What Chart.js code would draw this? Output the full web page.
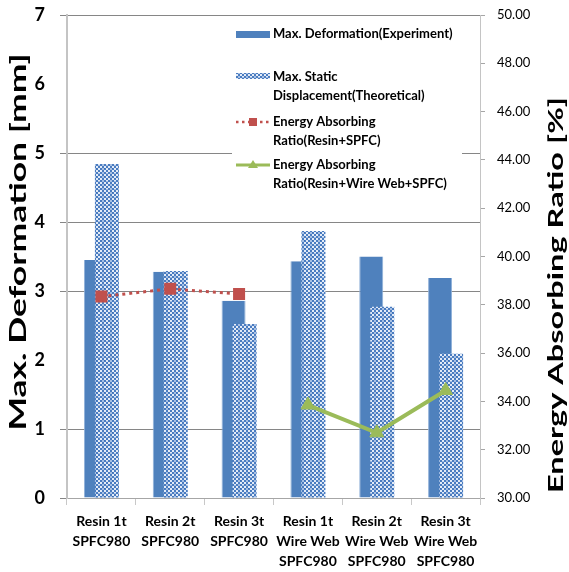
<!DOCTYPE html>
<html>
<head>
<meta charset="utf-8">
<script src="https://cdn.jsdelivr.net/npm/chart.js@4.4.1/dist/chart.umd.min.js"></script>
<style>
  html, body { margin: 0; padding: 0; background: #ffffff; }
  #wrap { width: 569px; height: 572px; position: relative; }
</style>
</head>
<body>
<div id="wrap"><canvas id="chart" width="569" height="572"></canvas></div>
<script>
// Specimen groups (multi-line category labels)
const categories = [
  ["Resin 1t", "SPFC980"],
  ["Resin 2t", "SPFC980"],
  ["Resin 3t", "SPFC980"],
  ["Resin 1t", "Wire Web", "SPFC980"],
  ["Resin 2t", "Wire Web", "SPFC980"],
  ["Resin 3t", "Wire Web", "SPFC980"]
];

// Deformation in mm (left axis)
const maxDeformationExperiment = [3.45, 3.28, 2.86, 3.43, 3.50, 3.19];
const maxStaticDisplacementTheoretical = [4.84, 3.29, 2.52, 3.87, 2.77, 2.09];

// Energy absorbing ratio in % (right axis)
const ratioResinSpfc = [38.34, 38.66, 38.45, null, null, null];
const ratioResinWireWebSpfc = [null, null, null, 33.85, 32.70, 34.45];

// Axis ranges
const deformationRange = { min: 0, max: 7, step: 1 };
const ratioRange = { min: 30, max: 50, step: 2 };

// Series names as shown in the legend (line-broken)
const seriesNames = [
  ["Max. Deformation(Experiment)"],
  ["Max. Static", "Displacement(Theoretical)"],
  ["Energy Absorbing", "Ratio(Resin+SPFC)"],
  ["Energy Absorbing", "Ratio(Resin+Wire Web+SPFC)"]
];

const FONT = "Lato, 'Open Sans', 'DejaVu Sans', sans-serif";
const BLUE = '#4f81bd';
const RED = '#c0504d';
const GREEN = '#9bbb59';

// Checkered texture used for the theoretical bars
function makeTexture() {
  const t = document.createElement('canvas');
  t.width = 8; t.height = 8;
  const g = t.getContext('2d');
  g.fillStyle = '#e3ebf7';
  g.fillRect(0, 0, 8, 8);
  for (let y = 0; y < 8; y++) {
    for (let x = 0; x < 8; x++) {
      const dark = ((x >> 1) + (y >> 1)) % 2 === 0;
      if (dark) {
        g.fillStyle = (x === 0 && y === 0) ? '#3a6db4' : '#4a7cc0';
        g.fillRect(x, y, 1, 1);
      } else if (x >= 6 || y === 5) {
        g.fillStyle = '#a6bfe3';
        g.fillRect(x, y, 1, 1);
      }
    }
  }
  return g.createPattern(t, 'repeat');
}

// Draw the theoretical bars right after the experimental ones so they sit in front
const barLayering = {
  id: 'barLayering',
  beforeDatasetDraw(chart, args) {
    if (args.index === 1) return false;
  },
  afterDatasetDraw(chart, args) {
    if (args.index === 0) {
      const meta = chart.getDatasetMeta(1);
      if (!meta.hidden) meta.controller.draw();
    }
  }
};

// Rotated axis titles
const axisTitles = {
  id: 'axisTitles',
  afterDraw(chart) {
    const ctx = chart.ctx;
    const drawRotated = (text, cx, cy, size, length) => {
      ctx.save();
      ctx.font = 'bold ' + size + 'px ' + FONT;
      const w = ctx.measureText(text).width;
      ctx.translate(cx, cy);
      ctx.rotate(-Math.PI / 2);
      ctx.scale(length / w, 1);
      ctx.fillStyle = '#000000';
      ctx.textAlign = 'center';
      ctx.textBaseline = 'middle';
      ctx.fillText(text, 0, 0);
      ctx.restore();
    };
    drawRotated('Max. Deformation [mm]', 19, 242, 23, 377);
    drawRotated('Energy Absorbing Ratio [%]', 556, 295, 21, 396);
  }
};

// Legend box inside the plot area
const boxLegend = {
  id: 'boxLegend',
  afterDraw(chart) {
    const ctx = chart.ctx;
    const x0 = 232, y0 = 20, w = 230, h = 178;
    ctx.save();
    ctx.fillStyle = '#ffffff';
    ctx.fillRect(x0, y0, w, h);

    const sx = 236, ex = 270, tx = 273;
    const rows = [
      { y: 34, lines: seriesNames[0] },
      { y: 77, lines: seriesNames[1] },
      { y: 122, lines: seriesNames[2] },
      { y: 165, lines: seriesNames[3] }
    ];
    const ds = chart.data.datasets;

    // swatch 1: solid bar
    ctx.fillStyle = ds[0].backgroundColor;
    ctx.fillRect(sx, rows[0].y - 3, ex - sx, 7);
    // swatch 2: textured bar
    ctx.fillStyle = ds[1].backgroundColor;
    ctx.fillRect(sx, rows[1].y - 4, ex - sx, 6);
    // swatch 3: dotted red line with square
    ctx.strokeStyle = ds[2].borderColor;
    ctx.lineWidth = 2.5;
    ctx.setLineDash([2.5, 3.5]);
    ctx.beginPath();
    ctx.moveTo(sx, rows[2].y); ctx.lineTo(ex, rows[2].y);
    ctx.stroke();
    ctx.setLineDash([]);
    ctx.fillStyle = ds[2].pointBackgroundColor;
    ctx.fillRect(249, rows[2].y - 4, 8, 8);
    // swatch 4: green line with triangle
    ctx.strokeStyle = ds[3].borderColor;
    ctx.lineWidth = 3;
    ctx.beginPath();
    ctx.moveTo(sx, rows[3].y); ctx.lineTo(ex, rows[3].y);
    ctx.stroke();
    ctx.fillStyle = ds[3].pointBackgroundColor;
    ctx.beginPath();
    ctx.moveTo(253, rows[3].y - 5);
    ctx.lineTo(258, rows[3].y + 3);
    ctx.lineTo(248, rows[3].y + 3);
    ctx.closePath();
    ctx.fill();

    ctx.fillStyle = '#000000';
    ctx.font = 'bold 13px ' + FONT;
    ctx.textAlign = 'left';
    ctx.textBaseline = 'middle';
    rows.forEach(r => {
      r.lines.forEach((line, i) => ctx.fillText(line, tx, r.y + i * 19));
    });
    ctx.restore();
  }
};

// Keep the vertical axes from reserving extra room above/below the plot
function fixVertical(width) {
  return (scale) => {
    scale.width = width;
    scale.paddingTop = 0;
    scale.paddingBottom = 0;
  };
}

function build() {
  const texture = makeTexture();
  new Chart(document.getElementById('chart'), {
    type: 'bar',
    data: {
      labels: categories,
      datasets: [
        {
          label: seriesNames[0].join(' '),
          data: maxDeformationExperiment,
          backgroundColor: BLUE,
          borderColor: '#8fb0d8',
          borderWidth: { left: 1, right: 1, top: 0, bottom: 0 },
          borderSkipped: 'bottom',
          yAxisID: 'y',
          categoryPercentage: 0.32,
          barPercentage: 2.18
        },
        {
          label: seriesNames[1].join(' '),
          data: maxStaticDisplacementTheoretical,
          backgroundColor: texture,
          borderWidth: 0,
          yAxisID: 'y',
          categoryPercentage: 0.32,
          barPercentage: 2.18
        },
        {
          type: 'line',
          label: seriesNames[2].join(' '),
          data: ratioResinSpfc,
          yAxisID: 'y2',
          order: -1,
          borderColor: RED,
          borderWidth: 3,
          borderDash: [3, 4],
          pointStyle: 'rect',
          pointRadius: 8.5,
          pointBackgroundColor: RED,
          pointBorderColor: RED,
          pointBorderWidth: 0,
          spanGaps: false,
          fill: false
        },
        {
          type: 'line',
          label: seriesNames[3].join(' '),
          data: ratioResinWireWebSpfc,
          yAxisID: 'y2',
          order: -1,
          borderColor: GREEN,
          borderWidth: 4,
          pointStyle: 'triangle',
          pointRadius: 8,
          pointBackgroundColor: GREEN,
          pointBorderColor: GREEN,
          pointBorderWidth: 1,
          spanGaps: false,
          fill: false
        }
      ]
    },
    options: {
      responsive: false,
      animation: false,
      devicePixelRatio: 1,
      layout: { padding: { top: 15, left: 0, right: 0, bottom: 0 } },
      plugins: {
        legend: { display: false },
        tooltip: { enabled: false }
      },
      scales: {
        x: {
          type: 'category',
          offset: true,
          grid: {
            offset: true,
            drawOnChartArea: false,
            drawTicks: true,
            tickLength: 7,
            color: '#c8c8c8'
          },
          border: { color: '#a6a6a6', width: 1 },
          ticks: {
            color: '#000000',
            font: { family: FONT, size: 14, weight: 'bold', lineHeight: 1.4 },
            padding: 7,
            maxRotation: 0,
            autoSkip: false
          },
          afterFit(scale) { scale.height = 74; }
        },
        y: {
          position: 'left',
          min: deformationRange.min,
          max: deformationRange.max,
          grid: {
            color: (c) => (c.tick && (c.tick.value === 2 || c.tick.value === 6)) ? 'rgba(0,0,0,0)' : '#868686',
            tickLength: 7,
            lineWidth: 1
          },
          border: { color: '#c4c4c4', width: 2 },
          ticks: {
            stepSize: deformationRange.step,
            color: '#000000',
            font: { family: FONT, size: 18, weight: 'bold' },
            padding: 15
          },
          afterFit: fixVertical(67)
        },
        y2: {
          position: 'right',
          min: ratioRange.min,
          max: ratioRange.max,
          grid: {
            drawOnChartArea: false,
            tickLength: 5,
            color: '#a6a6a6'
          },
          border: { color: '#c4c4c4', width: 1 },
          ticks: {
            stepSize: ratioRange.step,
            color: '#000000',
            font: { family: FONT, size: 13 },
            padding: 12,
            callback: (v) => Number(v).toFixed(2)
          },
          afterFit: fixVertical(89)
        }
      }
    },
    plugins: [barLayering, axisTitles, boxLegend]
  });
}

const fontLoads = [
  document.fonts.load('bold 14px Lato'),
  document.fonts.load('13px Lato')
];
Promise.all(fontLoads).then(build, build);
</script>
</body>
</html>
